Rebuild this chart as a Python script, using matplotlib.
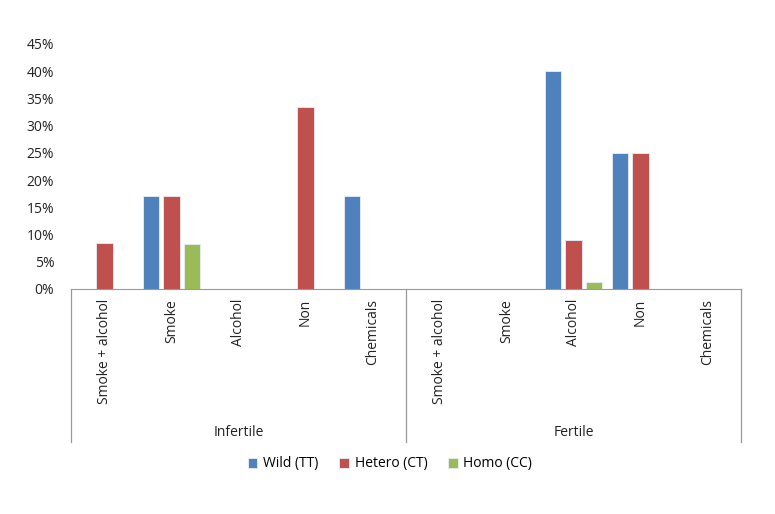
import matplotlib.pyplot as plt
import numpy as np

plt.rcParams['font.family'] = ['Open Sans', 'DejaVu Sans']

groups = ['Infertile', 'Fertile']
categories = ['Smoke + alcohol', 'Smoke', 'Alcohol', 'Non', 'Chemicals']
series = ['Wild (TT)', 'Hetero (CT)', 'Homo (CC)']
colors = ['#4F81BD', '#C0504D', '#9BBB59']

wild = [0, 17, 0, 0, 17, 0, 0, 40, 25, 0]
hetero = [8.5, 17, 0, 33.5, 0, 0, 0, 9, 25, 0]
homo = [0, 8.3, 0, 0, 0, 0, 0, 1.3, 0, 0]

W, H = 775, 514
fig = plt.figure(figsize=(W / 100, H / 100), dpi=100)
ax = fig.add_axes([71 / W, (H - 289) / H, (741 - 71) / W, (289 - 44) / H])

n = len(categories) * len(groups)
x = np.arange(n)
bw = 0.24
step = 0.3
for i, (vals, c, lab) in enumerate(zip([wild, hetero, homo], colors, series)):
    ax.bar(x + (i - 1) * step, np.array(vals) / 100, bw, color=c,
           edgecolor='#e8eef6', linewidth=0.6, label=lab)

ax.set_xlim(-0.5, n - 0.5)
ax.set_ylim(0, 0.45)
ax.set_yticks(np.arange(0, 0.46, 0.05))
ax.set_yticklabels([f'{int(round(v * 100))}%' for v in np.arange(0, 0.46, 0.05)],
                   fontsize=10, color='#222222')
ax.tick_params(axis='y', length=0, pad=12)
ax.set_xticks([])
for s in ['top', 'right', 'left']:
    ax.spines[s].set_visible(False)
ax.spines['bottom'].set_color('#999999')

# multi-level category axis
trans = ax.get_xaxis_transform()
depth = -(442 - 289) / (289 - 44)
for xv in [-0.5, 4.5, 9.5]:
    ax.plot([xv, xv], [0, depth], transform=trans, color='#999999',
            lw=0.9, clip_on=False)
for k in range(n):
    ax.text(k, -10 / (289 - 44), categories[k % len(categories)], transform=trans,
            rotation=90, ha='center', va='top', fontsize=10, color='#222222')
for g, name in enumerate(groups):
    ax.text(g * 5 + 2, -(432 - 289) / (289 - 44), name, transform=trans,
            ha='center', va='center', fontsize=10, color='#222222')

fig.legend(loc='center', bbox_to_anchor=(390 / W, 1 - 464 / H), ncol=3,
           frameon=False, fontsize=10, handlelength=0.7, handleheight=0.7,
           columnspacing=1.5, handletextpad=0.4)

fig.savefig('out.png', dpi=100)
